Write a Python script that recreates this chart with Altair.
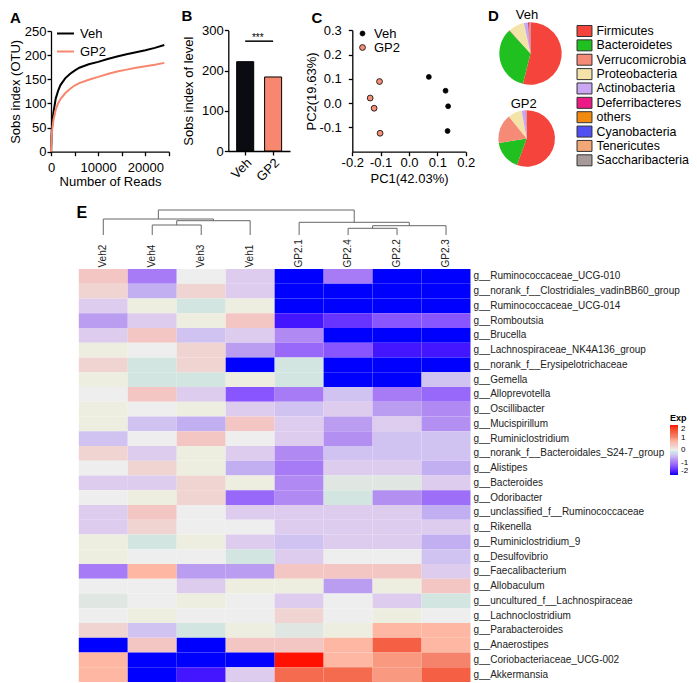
import altair as alt
import pandas as pd

W, H = 681, 675
FONT = "Liberation Sans, Arial, Helvetica, sans-serif"


def cx(v):
    return v - 8


def cy(v):
    return v - 8


# ---------------- data ----------------
groups = ["Veh", "GP2"]
group_colors = ["#000000", "#F7876E"]

# Panel A: rarefaction curves
reads = [0, 100, 250, 500, 1000, 1500, 2000, 3000, 4000, 5000, 6000, 8000,
         10000, 12000, 14000, 16000, 18000, 20000, 22000, 24000]
sobs_veh = [0, 30, 55, 80, 110, 126, 138, 152, 161, 168, 174, 181,
            186, 192, 197, 202, 206, 210, 215, 221]
sobs_gp2 = [0, 25, 45, 65, 87, 100, 109, 121, 130, 137, 142, 149,
            155, 161, 166, 170, 174, 177, 180, 184]

# Panel B
sobs_level = [222, 184]
sig_level = 273

# Panel C: PCA
pc1_veh = [0.070, 0.129, 0.138, 0.136]
pc2_veh = [0.108, 0.051, -0.013, -0.115]
pc1_gp2 = [-0.104, -0.137, -0.123, -0.102]
pc2_gp2 = [0.089, 0.021, -0.021, -0.124]

# Panel D: phylum composition (%)
phyla = ["Firmicutes", "Bacteroidetes", "Verrucomicrobia", "Proteobacteria",
         "Actinobacteria", "Deferribacteres", "others", "Cyanobacteria",
         "Tenericutes", "Saccharibacteria"]
phyla_colors = ["#F5443B", "#1FC01F", "#F58B76", "#F4E3A8", "#C9A7F2",
                "#EC1A86", "#F28A10", "#4F4FF2", "#F2A776", "#A99A9A"]
pct_veh = [53.9, 34.2, 0.4, 8.1, 2.1, 0.5, 0.4, 0.2, 0.1, 0.1]
pct_gp2 = [55.6, 16.9, 16.7, 7.9, 2.3, 0.2, 0.2, 0.1, 0.05, 0.05]

# Panel E: heatmap
samples = ["Veh2", "Veh4", "Veh3", "Veh1", "GP2.1", "GP2.4", "GP2.2", "GP2.3"]
genera = ["g__Ruminococcaceae_UCG-010", "g__norank_f__Clostridiales_vadinBB60_group",
          "g__Ruminococcaceae_UCG-014", "g__Romboutsia", "g__Brucella",
          "g__Lachnospiraceae_NK4A136_group", "g__norank_f__Erysipelotrichaceae",
          "g__Gemella", "g__Alloprevotella", "g__Oscillibacter", "g__Mucispirillum",
          "g__Ruminiclostridium", "g__norank_f__Bacteroidales_S24-7_group",
          "g__Alistipes", "g__Bacteroides", "g__Odoribacter",
          "g__unclassified_f__Ruminococcaceae", "g__Rikenella",
          "g__Ruminiclostridium_9", "g__Desulfovibrio", "g__Faecalibacterium",
          "g__Allobaculum", "g__uncultured_f__Lachnospiraceae",
          "g__Lachnoclostridium", "g__Parabacteroides", "g__Anaerostipes",
          "g__Coriobacteriaceae_UCG-002", "g__Akkermansia"]
exp_veh2 = [0.45, 0.25, -0.3, -0.7, -0.3, 0.1, 0.25, 0.1, 0, 0.1, 0.1, -0.45, 0.25, 0,
            -0.3, 0, -0.3, -0.3, 0.1, 0.1, -1.0, 0, -0.1, 0, 0.25, -2, 0.7, 0.7]
exp_veh4 = [-1.0, -0.6, 0.1, -0.3, 0.45, 0, -0.15, -0.15, 0.45, 0, -0.45, 0, -0.3, 0.25,
            -0.3, 0.1, 0.45, 0.25, -0.15, 0, 0.7, 0, 0, 0.1, -0.45, 0.45, -2, -2]
exp_veh3 = [0, 0.25, -0.15, 0.1, -0.45, 0.25, 0.25, -0.15, -0.3, 0.1, -0.6, 0.45, 0.1, 0.1,
            0.25, 0.25, 0, 0, 0.1, 0, -0.7, -0.3, 0.1, 0, -0.15, -2, -2, -1.75]
exp_veh1 = [-0.3, -0.3, 0.1, 0.45, -0.3, -0.7, -2, 0.1, -1.3, -0.3, 0.45, 0, -0.3, -0.6,
            0.1, -1.15, -0.3, 0, -0.3, -0.15, -0.7, 0.1, 0, 0, 0.1, 0.45, -2, -0.3]
exp_gp2_1 = [-2, -2, -2, -1.75, -0.85, -1.15, -0.15, -0.15, -1.0, -0.45, -0.3, -0.3, -0.85, -1.0,
             -0.85, -0.85, -0.3, -0.3, -0.45, -0.3, 0.45, 0.1, -0.3, 0.25, -0.1, 0.45, 2, 1.3]
exp_gp2_4 = [-1.0, -2, -2, -1.55, -2, -1.3, -2, -2, -0.45, -0.3, -0.7, -0.8, -0.45, -0.3,
             -0.1, -0.15, -0.3, -0.3, -0.3, 0, 0.45, -0.7, 0, 0, 0.1, 0.7, 0.7, 1.3]
exp_gp2_2 = [-2, -2, -2, -1.3, -2, -1.75, -2, -2, -1.0, -0.7, -0.3, -0.45, -0.45, -0.3,
             -0.1, -0.8, -0.3, -0.3, -0.3, 0, 0.45, 0.1, -0.3, 0.1, 0.7, 1.4, 0.9, 0.9]
exp_gp2_3 = [-2, -2, -2, -1.3, -2, -1.75, -2, -0.45, -1.15, -0.85, -0.8, -0.45, -0.45, -0.6,
             -0.3, -1.1, -0.6, -0.3, -0.6, -0.45, -0.3, 0.45, -0.15, 0, 0.7, 0.7, 1.05, 1.4]
heat_cols = [exp_veh2, exp_veh4, exp_veh3, exp_veh1, exp_gp2_1, exp_gp2_4, exp_gp2_2, exp_gp2_3]

# column dendrogram: (node, left, right, height)
merges = [("n1", "Veh4", "Veh3", 10.0), ("n2", "n1", "Veh1", 14.3), ("n3", "Veh2", "n2", 16.0),
          ("n4", "GP2.4", "GP2.2", 6.7), ("n5", "n4", "GP2.3", 9.3), ("n6", "GP2.1", "n5", 12.7),
          ("root", "n3", "n6", 25.0)]

exp_stops = [-2, -1.7, -1.3, -1.0, -0.75, -0.5, -0.3, -0.12, 0, 0.12, 0.3, 0.5, 0.75, 1.0, 1.4, 2]
exp_colors = ["#0000FF", "#4A1AFF", "#8855FF", "#A67BF5", "#B694F0", "#CCC0F2", "#DDCCEE",
              "#DDE6E0", "#EEEEEE", "#EEEEDD", "#E8CCD4", "#F5C5BD", "#FFB49B", "#F58870",
              "#F56045", "#FF1000"]

# ---------------- panel A ----------------
df_a = pd.DataFrame({"reads": reads * 2, "sobs": sobs_veh + sobs_gp2,
                     "group": ["Veh"] * len(reads) + ["GP2"] * len(reads)})
panel_a = alt.Chart(df_a).mark_line(strokeWidth=2).encode(
    x=alt.X("reads:Q", scale=alt.Scale(domain=[0, 25000], range=[cx(51), cx(169)], nice=False),
            axis=alt.Axis(orient="bottom", offset=cy(151.7) - H, values=[0, 5000, 10000, 15000, 20000, 25000],
                          format="d", labelExpr="datum.value % 10000 == 0 ? datum.label : ''",
                          title="Number of Reads", labelPadding=6, titlePadding=1, labelFlush=False,
                          labelOverlap=False)),
    y=alt.Y("sobs:Q", scale=alt.Scale(domain=[0, 250], range=[cy(151.7), cy(31)], nice=False),
            axis=alt.Axis(orient="left", offset=-cx(51), values=[0, 50, 100, 150, 200, 250],
                          title="Sobs index (OTU)", labelPadding=1, titlePadding=2)),
    color=alt.Color("group:N", scale=alt.Scale(domain=groups, range=group_colors),
                    legend=alt.Legend(orient="none", legendX=cx(56), legendY=cy(24), title=None,
                                      symbolType="stroke", symbolStrokeWidth=2, symbolSize=289,
                                      labelFontSize=13, rowPadding=1, labelOffset=5)),
)

# ---------------- panel B ----------------
df_b = pd.DataFrame({"group": groups, "sobs": sobs_level})
b_scale_x = alt.Scale(domain=groups, range=[cx(228.3), cx(290)], paddingInner=0.39, paddingOuter=0.3)
b_scale_y = alt.Scale(domain=[0, 300], range=[cy(151), cy(30.3)], nice=False)
bars = alt.Chart(df_b).mark_bar(stroke="black", strokeWidth=1).encode(
    x=alt.X("group:N", sort=groups, scale=b_scale_x,
            axis=alt.Axis(orient="bottom", offset=cy(151) - H, labelAngle=-45, title=None,
                          labelPadding=1)),
    y=alt.Y("sobs:Q", scale=b_scale_y,
            axis=alt.Axis(orient="left", offset=-cx(228.3), values=[0, 100, 200, 300],
                          title="Sobs index of level", labelPadding=1, titlePadding=6)),
    color=alt.Color("group:N", scale=alt.Scale(domain=groups, range=["#0B0B12", "#F7876E"]), legend=None),
)
df_sig = pd.DataFrame({"g1": ["Veh"], "g2": ["GP2"], "level": [sig_level], "stars": ["***"]})
sig_rule = alt.Chart(df_sig).mark_rule(color="black", strokeWidth=1.5).encode(
    x=alt.X("g1:N", bandPosition=0.5, scale=b_scale_x, axis=None),
    x2=alt.X2("g2:N", bandPosition=0.5),
    y=alt.Y("level:Q", scale=b_scale_y, axis=None),
)
sig_text = alt.Chart(df_sig).mark_text(fontSize=10, font=FONT, baseline="alphabetic", dx=14, dy=0).encode(
    x=alt.X("g1:N", bandPosition=0.5, scale=b_scale_x, axis=None),
    y=alt.Y("level:Q", scale=b_scale_y, axis=None),
    text="stars:N",
)

# ---------------- panel C ----------------
df_c = pd.DataFrame({"pc1": pc1_veh + pc1_gp2, "pc2": pc2_veh + pc2_gp2,
                     "group": ["Veh"] * len(pc1_veh) + ["GP2"] * len(pc1_gp2)})
neg_fmt = "datum.value < 0 ? '-' + format(-datum.value, '.1f') : format(datum.value, '.1f')"
panel_c = alt.Chart(df_c).mark_point(filled=True, stroke="black", strokeWidth=0.8, opacity=1).encode(
    x=alt.X("pc1:Q", scale=alt.Scale(domain=[-0.2, 0.2], range=[cx(352.3), cx(465.7)], nice=False),
            axis=alt.Axis(orient="bottom", offset=cy(151.7) - H, values=[-0.2, -0.1, 0, 0.1, 0.2],
                          labelExpr=neg_fmt, title="PC1(42.03%)", labelPadding=1, titlePadding=3,
                          labelFlush=False, labelOverlap=False)),
    y=alt.Y("pc2:Q", scale=alt.Scale(domain=[-0.2, 0.3], range=[cy(151.7), cy(30.3)], nice=False),
            axis=alt.Axis(orient="left", offset=-cx(352.3), values=[-0.1, 0, 0.1, 0.2, 0.3],
                          labelExpr=neg_fmt, title="PC2(19.63%)", labelPadding=7, titlePadding=0)),
    color=alt.Color("group:N", scale=alt.Scale(domain=groups, range=["#000000", "#F29079"]),
                    legend=alt.Legend(orient="none", legendX=cx(356), legendY=cy(27), title=None,
                                      symbolType="circle", symbolSize=30, symbolStrokeColor="black",
                                      symbolStrokeWidth=0.8, labelFontSize=13, rowPadding=0,
                                      labelOffset=5)),
    size=alt.Size("group:N", scale=alt.Scale(domain=groups, range=[24, 34]), legend=None),
)

# ---------------- panel D ----------------
color_d = alt.Color("phylum:N", scale=alt.Scale(domain=phyla, range=phyla_colors), legend=None)
df_pv = pd.DataFrame({"phylum": phyla, "pct": pct_veh, "idx": list(range(len(phyla)))})
df_pg = pd.DataFrame({"phylum": phyla, "pct": pct_gp2, "idx": list(range(len(phyla)))})
pie_veh = alt.Chart(df_pv).mark_arc(radius=31.2).encode(
    theta=alt.Theta("pct:Q", stack=True, scale=alt.Scale(domain=[0, 100])),
    color=color_d, order=alt.Order("idx:Q"),
    x=alt.value(cx(530.5)), y=alt.value(cy(53.5)),
)
pie_gp2 = alt.Chart(df_pg).mark_arc(radius=28.3).encode(
    theta=alt.Theta("pct:Q", stack=True, scale=alt.Scale(domain=[0, 100])),
    color=color_d, order=alt.Order("idx:Q"),
    x=alt.value(cx(526.7)), y=alt.value(cy(138.5)),
)
df_leg = pd.DataFrame({"phylum": phyla})
leg_y = alt.Y("phylum:N", sort=phyla, scale=alt.Scale(domain=phyla, range=[cy(31), cy(160.3)], padding=0),
              axis=None)
leg_sym = alt.Chart(df_leg).mark_point(filled=True, shape="M-1.36,-1H1.36V1H-1.36Z", size=121,
                                       stroke="#333333", strokeWidth=1, opacity=1).encode(
    x=alt.value(cx(584.5)), y=leg_y, color=color_d)
leg_txt = alt.Chart(df_leg).mark_text(align="left", baseline="middle", fontSize=12.4, font=FONT,
                                      color="black").encode(
    x=alt.value(cx(596.5)), y=leg_y, text="phylum:N")
panel_d = alt.layer(pie_veh, pie_gp2, leg_sym, leg_txt)

# ---------------- panel E ----------------
df_heat = pd.DataFrame([{"sample": s, "genus": g, "exp": v}
                        for s, col in zip(samples, heat_cols) for g, v in zip(genera, col)])
int_fmt = "datum.value < 0 ? '-' + format(-datum.value, 'd') : format(datum.value, 'd')"
heat = alt.Chart(df_heat).mark_rect().encode(
    x=alt.X("sample:N", sort=samples,
            scale=alt.Scale(domain=samples, range=[cx(78.8), cx(470.5)], paddingInner=0, paddingOuter=0),
            axis=alt.Axis(orient="top", offset=-cy(269), title=None, labelAngle=-90, ticks=False,
                          domain=False, labelPadding=2, labelFontSize=10, labelColor="#222222")),
    y=alt.Y("genus:N", sort=genera,
            scale=alt.Scale(domain=genera, range=[cy(269), cy(682)], paddingInner=0, paddingOuter=0),
            axis=alt.Axis(orient="right", offset=cx(470.5) - W, title=None, ticks=False, domain=False,
                          labelPadding=2.5, labelFontSize=10, labelColor="#222222", labelLimit=400)),
    color=alt.Color("exp:Q", scale=alt.Scale(domain=exp_stops, range=exp_colors, clamp=True),
                    legend=alt.Legend(orient="none", legendX=cx(670), legendY=cy(414), title="Exp",
                                      titleFontSize=9, titleFontWeight="bold", titlePadding=2,
                                      gradientLength=50, gradientThickness=8, labelFontSize=8,
                                      values=[-2, -1, 0, 1, 2], labelExpr=int_fmt, labelOffset=3,
                                      direction="vertical", gradientStrokeWidth=0)),
)

pos = {s: i + 0.5 for i, s in enumerate(samples)}
hgt = {s: 0.0 for s in samples}
segs = []
for node, a, b, h in merges:
    pa, pb, ha, hb = pos[a], pos[b], hgt[a], hgt[b]
    segs.append({"x": pa, "x2": pa, "y": ha, "y2": h})
    segs.append({"x": pb, "x2": pb, "y": hb, "y2": h})
    segs.append({"x": pa, "x2": pb, "y": h, "y2": h})
    pos[node] = (pa + pb) / 2
    hgt[node] = h
df_dend = pd.DataFrame(segs)
dendro = alt.Chart(df_dend).mark_rule(color="#666666", strokeWidth=1).encode(
    x=alt.X("x:Q", scale=alt.Scale(domain=[0, len(samples)], range=[cx(78.8), cx(470.5)], nice=False), axis=None),
    x2="x2:Q",
    y=alt.Y("y:Q", scale=alt.Scale(domain=[0, 25], range=[cy(235), cy(210)], nice=False), axis=None),
    y2="y2:Q",
)


# ---------------- annotations ----------------
def annot(s, x, y, size=13, weight="normal", align="left"):
    return alt.Chart(alt.Data(values=[{"t": s}])).mark_text(
        fontSize=size, fontWeight=weight, align=align, baseline="alphabetic", font=FONT, color="black"
    ).encode(x=alt.value(cx(x)), y=alt.value(cy(y)), text="t:N")


texts = [
    annot("A", 10, 23, 15, "bold"),
    annot("B", 181.5, 21, 15, "bold"),
    annot("C", 311.5, 22.5, 15, "bold"),
    annot("D", 488, 21, 15, "bold"),
    annot("E", 76.5, 218, 16, "bold"),
    annot("Veh", 527, 18.5, 13, "normal", "center"),
    annot("GP2", 523.7, 108, 13, "normal", "center"),
]

chart = alt.layer(panel_a, bars, sig_rule, sig_text, panel_c, panel_d, heat, dendro, *texts).resolve_scale(
    x="independent", y="independent", color="independent", theta="independent", size="independent"
).properties(
    width=W, height=H, autosize=alt.AutoSizeParams(type="none"), padding=0
).configure_view(stroke=None).configure_axis(
    labelFont=FONT, titleFont=FONT, labelColor="black", titleColor="black", domainColor="black",
    tickColor="black", grid=False, titleFontWeight="normal", labelFontSize=13, titleFontSize=13,
    tickSize=4, domainWidth=1.3, tickWidth=1.3
).configure_legend(labelFont=FONT, titleFont=FONT, labelColor="black")

chart.save("out.html", embed_options={"renderer": "svg", "actions": False})
